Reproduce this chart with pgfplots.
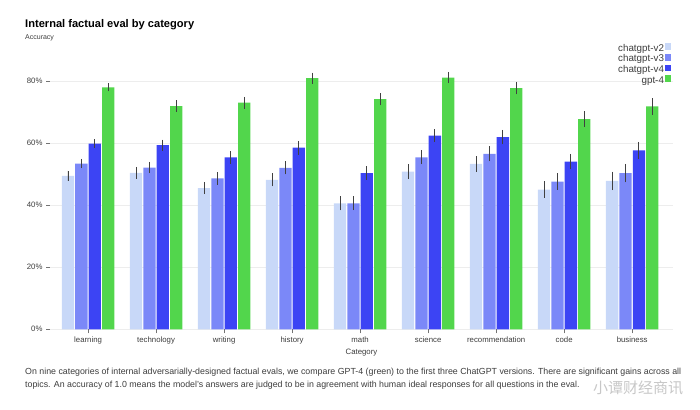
\documentclass[border=0pt]{standalone}
\usepackage{pgfplots}
\pgfplotsset{compat=1.18}
\usepackage{fontspec}
\setmainfont{Liberation Sans}
\newfontfamily\cjk{Noto Sans CJK SC}
\definecolor{cv2}{HTML}{C8D8F8}
\definecolor{cv3}{HTML}{7B88F8}
\definecolor{cv4}{HTML}{3C44F4}
\definecolor{cg4}{HTML}{52D64C}
\definecolor{txt}{HTML}{3C3C3C}
\pgfplotsset{
    errbar/.style={
        draw=none,
        error bars/.cd,
        y dir=both, y explicit, error mark=none,
        error bar style={line width=0.9pt, color=black!75}
    }
}
\begin{document}
\begin{tikzpicture}[x=1pt,y=1pt]
\useasboundingbox (0,0) rectangle (700,409);
% title and subtitle
\node[anchor=west,inner sep=0pt,font=\fontsize{11.1}{13}\selectfont\bfseries] at (25,384) {Internal factual eval by category};
\node[anchor=west,inner sep=0pt,font=\fontsize{7}{8}\selectfont,text=txt] at (25,371) {Accuracy};
\begin{axis}[
    at={(50pt,79.7pt)}, anchor=south west,
    scale only axis, width=623pt, height=267pt,
    xmin=-0.56, xmax=8.6, ymin=0, ymax=86,
    ybar=1.1pt, bar width=12.3pt,
    axis x line=bottom, axis y line=left,
    axis line style={draw=none},
    ytick={0,20,40,60,80},
    yticklabels={0\%,20\%,40\%,60\%,80\%},
    xtick={0,...,8},
    xticklabels={learning,technology,writing,history,math,science,recommendation,code,business},
    tick align=outside, major tick length=4pt,
    tick style={color=black!55, line width=0.5pt},
    ymajorgrids, grid style={color=black!7, line width=0.5pt},
    tick label style={font=\fontsize{7.8}{9}\selectfont, text=txt},
    xlabel={Category},
    xlabel style={font=\fontsize{7.8}{9}\selectfont, text=txt, yshift=2pt},
    legend plot pos=right,
    legend image code/.code={\fill[#1,draw=none] (2.8pt,-1pt) rectangle (9.3pt,5.5pt);},
    legend style={at={(1.002,1.079)}, anchor=north east, draw=none, fill=none,
        font=\fontsize{9.8}{9}\selectfont, text=txt,
        nodes={inner sep=0.6pt, text height=6.8pt, text depth=2.2pt},
        legend cell align=right},
]
\addplot+[fill=cv2, errbar] coordinates {
    (0,49.4) +- (0,1.6) (1,50.4) +- (0,1.9) (2,45.5) +- (0,2.0)
    (3,48.1) +- (0,2.1) (4,40.6) +- (0,2.3) (5,50.8) +- (0,2.4)
    (6,53.3) +- (0,2.5) (7,45.0) +- (0,2.7) (8,47.8) +- (0,3.0)
};
\addplot+[fill=cv3, errbar] coordinates {
    (0,53.4) +- (0,1.5) (1,52.1) +- (0,1.8) (2,48.6) +- (0,2.0)
    (3,52.0) +- (0,2.1) (4,40.6) +- (0,2.2) (5,55.4) +- (0,2.3)
    (6,56.5) +- (0,2.4) (7,47.6) +- (0,2.6) (8,50.3) +- (0,3.0)
};
\addplot+[fill=cv4, errbar] coordinates {
    (0,59.8) +- (0,1.4) (1,59.3) +- (0,1.8) (2,55.4) +- (0,2.0)
    (3,58.5) +- (0,2.2) (4,50.3) +- (0,2.2) (5,62.4) +- (0,2.1)
    (6,61.9) +- (0,2.3) (7,54.0) +- (0,2.5) (8,57.6) +- (0,2.8)
};
\addplot+[fill=cg4, errbar] coordinates {
    (0,77.9) +- (0,1.3) (1,71.9) +- (0,1.8) (2,73.0) +- (0,1.9)
    (3,80.9) +- (0,1.8) (4,74.1) +- (0,2.0) (5,81.1) +- (0,1.8)
    (6,77.7) +- (0,2.0) (7,67.7) +- (0,2.5) (8,71.8) +- (0,2.7)
};
\legend{chatgpt-v2,chatgpt-v3,chatgpt-v4,gpt-4}
\end{axis}
% caption
\node[anchor=north west,inner sep=0pt,text=txt] at (25,43) {\resizebox{656pt}{!}{\fontsize{8.2}{11.5}\selectfont\begin{tabular}{@{}l@{}}
On nine categories of internal adversarially-designed factual evals, we compare GPT-4 (green) to the first three ChatGPT versions. There are significant gains across all\\
topics. An accuracy of 1.0 means the model's answers are judged to be in agreement with human ideal responses for all questions in the eval.
\end{tabular}}};
% watermark
\node[anchor=center,inner sep=0pt,text=black!22,font=\cjk\fontsize{15}{16}\selectfont] at (638,21) {小谭财经商讯};
\end{tikzpicture}
\end{document}
